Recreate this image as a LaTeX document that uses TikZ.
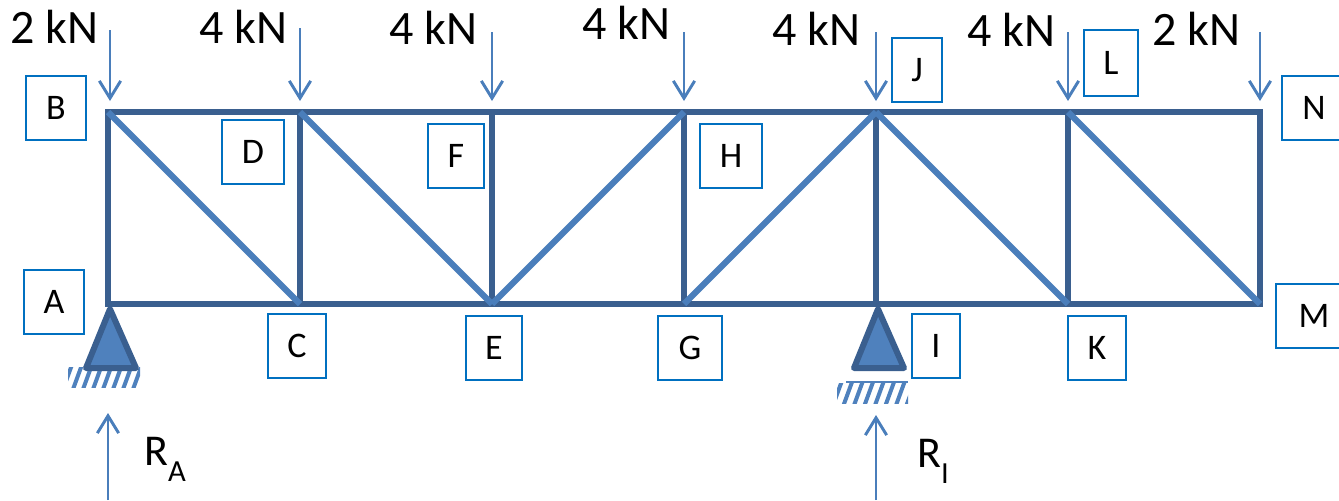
\documentclass[tikz,border=0pt]{standalone}
\usepackage{fontspec}
\setmainfont{Carlito}
\usetikzlibrary{arrows.meta}
\definecolor{chordblue}{HTML}{3A5F8F}
\definecolor{webblue}{HTML}{4A7EBB}
\definecolor{fillblue}{HTML}{4F81BD}
\definecolor{boxblue}{HTML}{0070C0}
\tikzset{
    chord/.style={draw=chordblue,line width=4.5pt},
    web/.style={draw=webblue,line width=4.6pt},
    force/.style={draw=webblue,line width=2.2pt,-{Straight Barb[length=13pt,width=16pt,line width=2.2pt]}},
    support/.style={draw=chordblue,fill=fillblue,line width=4.5pt,line join=round},
    hatch/.style={draw=fillblue,line width=3pt},
    lab/.style={draw=boxblue,line width=1.5pt,fill=white,inner sep=0pt,outer sep=0pt,font=\fontsize{27}{27}\selectfont},
    load/.style={inner sep=0pt,anchor=base,font=\fontsize{36}{36}\selectfont},
    reaction/.style={inner sep=0pt,anchor=base west,font=\fontsize{33}{33}\selectfont}
}
\begin{document}
\begin{tikzpicture}[x=0.75pt,y=-0.75pt]
    \useasboundingbox (0,0) rectangle (1339,500);

    % joints
    \foreach \nm/\xx/\yy in {B/108/112,D/300/112,F/492/112,H/684/112,J/876/112,L/1068/112,N/1260/112,
                             A/108/304,C/300/304,E/492/304,G/684/304,I/876/304,K/1068/304,M/1260/304}
        \coordinate (j\nm) at (\xx,\yy);

    % members
    \foreach \from/\to in {B/A,D/C,F/E,H/G,J/I,L/K,N/M}
        \draw [chord] (j\from) -- (j\to);
    \draw [chord,line cap=rect] (jB) -- (jN);
    \draw [chord,line cap=rect] (jA) -- (jM);
    \foreach \from/\to in {B/C,D/E,H/E,J/G,J/K,L/M}
        \draw [web] (j\from) -- (j\to);

    % supports
    \begin{scope}
        \clip (68,367) rectangle (140,387);
        \foreach \i in {0,...,7}
            \draw [hatch] (62+10*\i,392) -- (73+10*\i,362);
    \end{scope}
    \begin{scope}
        \clip (837,383) rectangle (908,403);
        \foreach \i in {0,...,7}
            \draw [hatch] (832+10.5*\i,408) -- (843+10.5*\i,378);
    \end{scope}
    \draw [hatch,line width=1.2pt] (846,382) -- (908,382);
    \coordinate (apexA) at (110,309);
    \coordinate (apexI) at (878,309);
    \draw [support] (apexA) -- (86,368) -- (136,368) -- cycle;
    \draw [support] (apexI) -- (854,368) -- (904,368) -- cycle;

    % applied loads
    \foreach \nm/\xx/\yy in {B/110/30,D/300/28,F/492/32,H/684/32,J/876/32,L/1068/32,N/1260/32} {
        \coordinate (q\nm) at (\xx,\yy);
        \coordinate (p\nm) at (\xx,101);
        \draw [force] (q\nm) -- (p\nm);
    }

    % reactions
    \coordinate (qA) at (108,500);
    \coordinate (pA) at (108,413);
    \coordinate (qI) at (876,500);
    \coordinate (pI) at (876,415);
    \draw [force] (qA) -- (pA);
    \draw [force] (qI) -- (pI);

    % load values
    \node [load] (loadB) at (54,43) {2 kN};
    \node [load] (loadD) at (243,43) {4 kN};
    \node [load] (loadF) at (433,44) {4 kN};
    \node [load] (loadH) at (626,39) {4 kN};
    \node [load] (loadJ) at (816,45) {4 kN};
    \node [load] (loadL) at (1011,46) {4 kN};
    \node [load] (loadN) at (1196,45) {2 kN};
    \node [reaction] (forceA) at (144,465) {R\raisebox{-0.37em}{\fontsize{23}{23}\selectfont A}};
    \node [reaction] (forceI) at (917,467) {R\raisebox{-0.37em}{\fontsize{23}{23}\selectfont I}};

    % letter boxes
    \node [lab,minimum width=45pt,minimum height=48pt] (B) at (56,108) {B};
    \node [lab,minimum width=46.5pt,minimum height=48pt] (D) at (253,152) {D};
    \node [lab,minimum width=42pt,minimum height=48pt] (F) at (456,156) {F};
    \node [lab,minimum width=46.5pt,minimum height=48pt] (H) at (731,156) {H};
    \node [lab,minimum width=37.5pt,minimum height=48pt] (J) at (917,70) {J};
    \node [lab,minimum width=40.5pt,minimum height=49.5pt] (L) at (1111,63) {L};
    \node [lab,minimum width=48pt,minimum height=48pt] (N) at (1314,108) {N};
    \node [lab,minimum width=45pt,minimum height=48pt] (A) at (54,302) {A};
    \node [lab,minimum width=43.5pt,minimum height=48pt] (C) at (297,346) {C};
    \node [lab,minimum width=42pt,minimum height=48pt] (E) at (494,348) {E};
    \node [lab,minimum width=48pt,minimum height=48pt] (G) at (690,348) {G};
    \node [lab,minimum width=36pt,minimum height=48pt] (I) at (936,346) {I};
    \node [lab,minimum width=43.5pt,minimum height=48pt] (K) at (1097,348) {K};
    \node [lab,minimum width=57pt,minimum height=48pt] (M) at (1314,316) {M};
\end{tikzpicture}
\end{document}
